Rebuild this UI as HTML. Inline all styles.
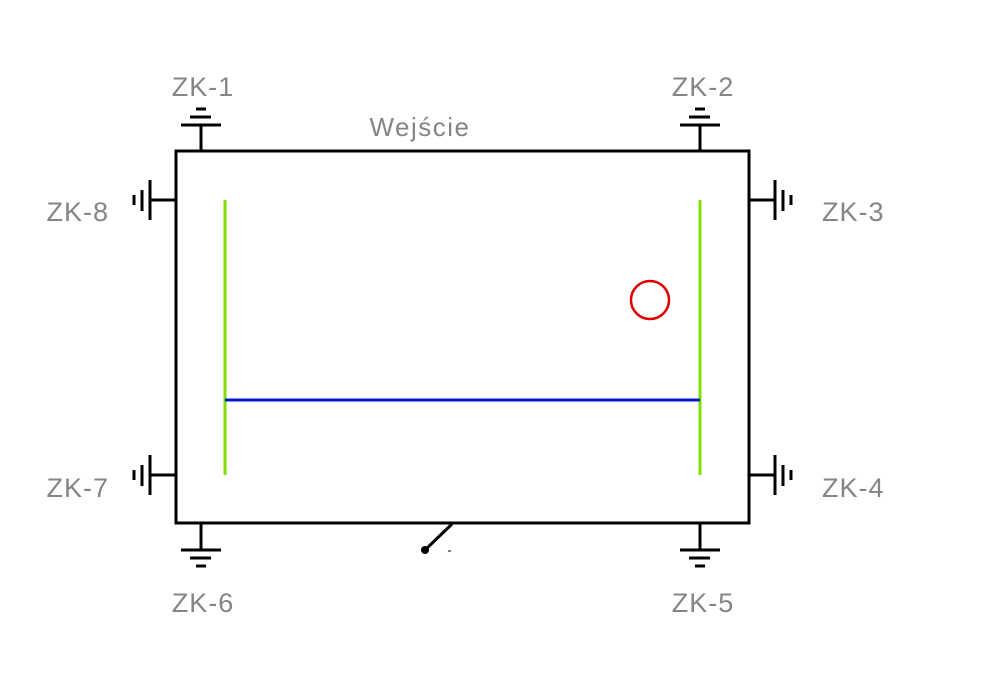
<!DOCTYPE html>
<html><head><meta charset="utf-8"><style>
html,body{margin:0;padding:0;background:#fff;width:1000px;height:700px;overflow:hidden}
text{font-family:"Liberation Sans","DejaVu Sans",sans-serif;fill:#858585;font-weight:normal;letter-spacing:1px}
</style></head><body>
<svg width="1000" height="700" viewBox="0 0 1000 700" xmlns="http://www.w3.org/2000/svg">
<rect x="176" y="151" width="573" height="372" fill="none" stroke="#000" stroke-width="3"/>
<line x1="225" y1="200" x2="225" y2="475" stroke="#7fe000" stroke-width="3"/>
<line x1="700" y1="200" x2="700" y2="475" stroke="#7fe000" stroke-width="3"/>
<line x1="225" y1="400" x2="700" y2="400" stroke="#0018c8" stroke-width="3"/>
<circle cx="650" cy="300" r="19" fill="none" stroke="#e00000" stroke-width="2.5"/>
<g>
<line x1="452" y1="524" x2="425" y2="550" stroke="#000" stroke-width="3"/>
<circle cx="425" cy="550" r="4" fill="#000"/>
<line x1="448" y1="551" x2="451" y2="551" stroke="#000" stroke-width="1"/>
</g>
<g stroke="#000" stroke-width="3" fill="none">
<g><path d="M201 151V125M181 125H221M190 117H211M196 109H206"/></g>
<g><path d="M700 151V125M680 125H720M689 117H710M695 109H705"/></g>
<g><path d="M201 523V550M181 550H221M190 558H211M196 566H206"/></g>
<g><path d="M700 523V550M680 550H720M689 558H710M695 566H705"/></g>
<g><path d="M176 200H150M150 180V220M142 190V211M134 195V205"/></g>
<g><path d="M176 475H150M150 455V495M142 465V486M134 470V480"/></g>
<g><path d="M749 200H775M775 180V220M783 190V211M791 195V205"/></g>
<g><path d="M749 475H775M775 455V495M783 465V486M791 470V480"/></g>
</g>
<text x="203" y="96" font-size="27" text-anchor="middle">ZK-1</text>
<text x="703" y="96" font-size="27" text-anchor="middle">ZK-2</text>
<text x="420" y="136" font-size="26" text-anchor="middle" style="letter-spacing:1.5px">Wejście</text>
<text x="109" y="221" font-size="27" text-anchor="end">ZK-8</text>
<text x="822" y="221" font-size="27">ZK-3</text>
<text x="109" y="497" font-size="27" text-anchor="end">ZK-7</text>
<text x="822" y="497" font-size="27">ZK-4</text>
<text x="203" y="612" font-size="27" text-anchor="middle">ZK-6</text>
<text x="703" y="612" font-size="27" text-anchor="middle">ZK-5</text>
</svg>
</body></html>
